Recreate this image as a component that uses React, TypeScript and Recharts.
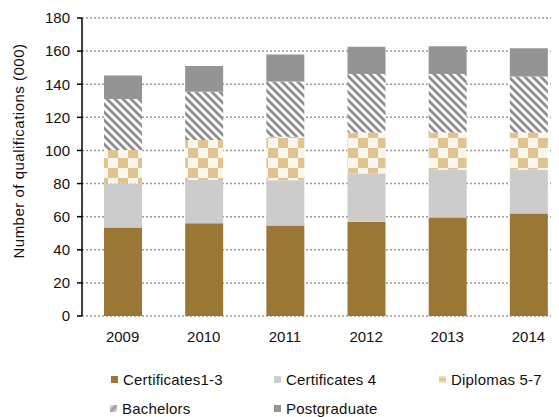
import React from 'react';
import { BarChart, Bar, XAxis, YAxis, CartesianGrid, Legend } from 'recharts';

const years = ['2009', '2010', '2011', '2012', '2013', '2014'];
const certificates13 = [53.5, 56, 54.6, 57, 59.5, 61.9];
const certificates4 = [26.5, 26.2, 27.4, 29, 28.9, 26.5];
const diplomas = [20.2, 24.1, 26.3, 24.8, 22.4, 22.4];
const bachelors = [30.8, 29.2, 33.3, 35.4, 35.4, 33.8];
const postgraduate = [14.2, 15.5, 16.4, 16.5, 16.8, 17.1];
const yTicks = [0, 20, 40, 60, 80, 100, 120, 140, 160, 180];
const boundaryTicks = [0, 1, 2, 3, 4, 5, 6];

const data = years.map((year, i) => ({
  year,
  c13: certificates13[i],
  c4: certificates4[i],
  dip: diplomas[i],
  bach: bachelors[i],
  pg: postgraduate[i],
}));

const FONT = '"Liberation Sans", Arial, sans-serif';
const BROWN = '#9a7735';
const LIGHT = '#cccccc';
const TAN = '#dfc491';
const STRIPE = '#8d8d8d';
const DARK = '#949494';

const legendItems = [
  { key: 'c13', label: 'Certificates1-3', fill: BROWN, left: 3, row: 0 },
  { key: 'c4', label: 'Certificates 4', fill: LIGHT, left: 166, row: 0 },
  { key: 'dip', label: 'Diplomas 5-7', fill: 'url(#dipIcon)', left: 331, row: 0 },
  { key: 'bach', label: 'Bachelors', fill: 'url(#bachIcon)', left: 2, row: 1 },
  { key: 'pg', label: 'Postgraduate', fill: DARK, left: 166, row: 1 },
];

function LegendBox() {
  return (
    <div style={{ position: 'relative', width: 460, height: 50, fontFamily: FONT, fontSize: 15, color: '#111', letterSpacing: 0.2 }}>
      <svg width={0} height={0} style={{ position: 'absolute' }}>
        <defs>
          <linearGradient id="dipIcon" x1="0" y1="0" x2="0" y2="1">
            <stop offset="0" stopColor="#f3e6cc" />
            <stop offset="0.5" stopColor={TAN} />
            <stop offset="1" stopColor="#f3e6cc" />
          </linearGradient>
          <linearGradient id="bachIcon" x1="0" y1="0" x2="1" y2="1">
            <stop offset="0" stopColor="#eeeeee" />
            <stop offset="0.5" stopColor="#9a9a9a" />
            <stop offset="1" stopColor="#eeeeee" />
          </linearGradient>
        </defs>
      </svg>
      {legendItems.map(item => (
        <div
          key={item.key}
          style={{ position: 'absolute', left: item.left, top: item.row * 29, display: 'flex', alignItems: 'center', gap: 5, height: 18, whiteSpace: 'nowrap' }}
        >
          <svg width={7} height={7}>
            <rect width={7} height={7} fill={item.fill} />
          </svg>
          <span>{item.label}</span>
        </div>
      ))}
    </div>
  );
}

const renderYLabel = (props: any) => {
  const vb = props.viewBox;
  const x = vb.x + 10;
  const y = vb.y + vb.height / 2 - 16;
  return (
    <text
      x={x}
      y={y}
      transform={`rotate(-90, ${x}, ${y})`}
      textAnchor="middle"
      dominantBaseline="central"
      fontFamily={FONT}
      fontSize={15}
      letterSpacing={0.5}
      fill="#111"
    >
      Number of qualifications (000)
    </text>
  );
};

export default function App() {
  return (
    <div style={{ width: 551, height: 409, overflow: 'hidden' }}>
      <BarChart
        width={566}
        height={409}
        data={data}
        margin={{ top: 10, right: 5, bottom: 71, left: 0 }}
        barSize={38}
        style={{ fontFamily: FONT }}
      >
        <defs>
          <pattern id="checker" width={20} height={20} patternUnits="userSpaceOnUse">
            <rect width={20} height={20} fill="#fbf6ec" />
            <rect x={0} y={0} width={10} height={10} fill={TAN} />
            <rect x={10} y={10} width={10} height={10} fill={TAN} />
          </pattern>
          <pattern id="stripes" width={8} height={8} patternUnits="userSpaceOnUse">
            <rect width={8} height={8} fill="#ffffff" />
            <path d="M-2,-2 L10,10 M-2,6 L2,10 M6,-2 L10,2" stroke={STRIPE} strokeWidth={2.8} />
          </pattern>
        </defs>
        <CartesianGrid vertical={false} stroke="#9a9a9a" strokeDasharray="2 2" strokeWidth={1.5} />
        <XAxis
          xAxisId="edges"
          type="number"
          domain={[0, 6]}
          ticks={boundaryTicks}
          allowDataOverflow
          height={0}
          tick={false}
          tickSize={5}
          tickLine={{ stroke: '#000', strokeWidth: 1.5 }}
          axisLine={{ stroke: '#000', strokeWidth: 1.5 }}
        />
        <XAxis
          xAxisId="cat"
          dataKey="year"
          height={30}
          axisLine={false}
          tickLine={false}
          tickSize={6}
          tickMargin={9}
          tick={{ fill: '#111', fontSize: 15, fontFamily: FONT }}
          interval={0}
        />
        <YAxis
          domain={[0, 180]}
          ticks={yTicks}
          width={74}
          interval={0}
          tickSize={5}
          tickMargin={7}
          tick={{ fill: '#111', fontSize: 15, fontFamily: FONT }}
          tickLine={{ stroke: '#000', strokeWidth: 1.5 }}
          axisLine={{ stroke: '#000', strokeWidth: 1.5 }}
          label={renderYLabel}
        />
        <Bar xAxisId="cat" dataKey="c13" stackId="a" fill={BROWN} isAnimationActive={false} />
        <Bar xAxisId="cat" dataKey="c4" stackId="a" fill={LIGHT} isAnimationActive={false} />
        <Bar xAxisId="cat" dataKey="dip" stackId="a" fill="url(#checker)" isAnimationActive={false} />
        <Bar xAxisId="cat" dataKey="bach" stackId="a" fill="url(#stripes)" isAnimationActive={false} />
        <Bar xAxisId="cat" dataKey="pg" stackId="a" fill={DARK} isAnimationActive={false} />
        <Legend
          layout="horizontal"
          verticalAlign="middle"
          align="center"
          wrapperStyle={{ left: 100, top: 362, width: 460 }}
          content={() => <LegendBox />}
        />
      </BarChart>
    </div>
  );
}
